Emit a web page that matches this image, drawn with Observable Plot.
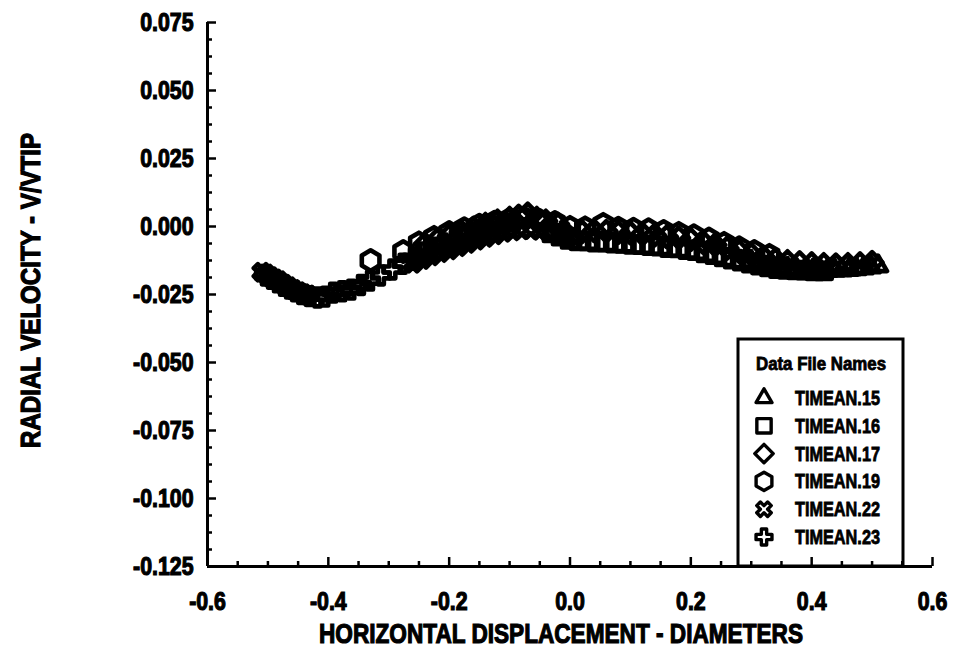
<!DOCTYPE html>
<html>
<head>
<meta charset="utf-8">
<script src="https://cdn.jsdelivr.net/npm/d3@7"></script>
<script src="https://cdn.jsdelivr.net/npm/@observablehq/plot@0.6"></script>
<style>
  body { margin: 0; background: #fff; }
  #chart { position: relative; width: 953px; height: 661px; }
  #chart svg.overlay { position: absolute; left: 0; top: 0; pointer-events: none; }
</style>
</head>
<body>
<div id="chart"></div>
<script>
// Radial velocity traverses, one array pair per data file
const files = ["TIMEAN.15", "TIMEAN.16", "TIMEAN.17", "TIMEAN.19", "TIMEAN.22", "TIMEAN.23"];

const t15x = [0.30, 0.315, 0.33, 0.345, 0.36, 0.375, 0.39, 0.402, 0.414, 0.426, 0.438, 0.45, 0.462, 0.474, 0.486, 0.498, 0.51];
const t15y = [-0.0128, -0.0137, -0.0143, -0.0150, -0.0154, -0.0158, -0.0160, -0.0161, -0.0161, -0.0162, -0.0161, -0.0160, -0.0158, -0.0156, -0.0153, -0.0149, -0.0145];

const t16x = [-0.03, -0.015, 0.0, 0.015, 0.03, 0.045, 0.06, 0.075, 0.09, 0.105, 0.12, 0.135, 0.15, 0.165, 0.18, 0.195, 0.21, 0.225, 0.24, 0.255, 0.27, 0.285, 0.30, 0.315, 0.33, 0.345, 0.36, 0.375, 0.39, 0.405, 0.42];
const t16y = [-0.0024, -0.0036, -0.0048, -0.0053, -0.0053, -0.0058, -0.0057, -0.0061, -0.0062, -0.0066, -0.0067, -0.0071, -0.0072, -0.0078, -0.0079, -0.0085, -0.0089, -0.0097, -0.0104, -0.0112, -0.0120, -0.0128, -0.0135, -0.0142, -0.0149, -0.0155, -0.0158, -0.0160, -0.0161, -0.0163, -0.0163];

const t17x = [-0.24, -0.22, -0.20, -0.18, -0.16, -0.14, -0.12, -0.10, -0.085, -0.07, -0.055, -0.04, -0.02, 0.0, 0.02, 0.04, 0.06, 0.08, 0.10, 0.12, 0.14, 0.16, 0.18, 0.20, 0.22, 0.24, 0.26, 0.28, 0.30, 0.32, 0.34, 0.36, 0.38, 0.40, 0.42, 0.44, 0.46, 0.48, 0.50];
const t17y = [-0.0065, -0.0050, -0.0035, -0.0020, -0.0006, 0.0008, 0.0020, 0.0030, 0.0038, 0.0046, 0.0030, 0.0020, 0.0008, -0.0040, -0.0020, -0.0016, -0.0018, -0.0022, -0.0024, -0.0028, -0.0032, -0.0038, -0.0042, -0.0048, -0.0058, -0.0068, -0.0080, -0.0092, -0.0103, -0.0113, -0.0122, -0.0129, -0.0133, -0.0137, -0.0140, -0.0141, -0.0140, -0.0137, -0.0132];

const t19x = [-0.33, -0.276, -0.25, -0.225, -0.20, -0.175, -0.15, -0.125, -0.10, -0.075, -0.05, -0.025, 0.0, 0.025, 0.055, 0.08, 0.105, 0.13, 0.155, 0.18, 0.205, 0.23, 0.255, 0.28, 0.305, 0.33];
const t19y = [-0.0125, -0.0092, -0.0060, -0.0040, -0.0022, -0.0008, 0.0005, 0.0016, 0.0026, 0.0030, 0.0022, 0.0015, -0.0003, -0.0005, 0.0008, -0.0006, -0.0010, -0.0012, -0.0018, -0.0025, -0.0034, -0.0046, -0.0062, -0.0078, -0.0092, -0.0106];

const t22x = [-0.51, -0.503, -0.496, -0.489, -0.482, -0.474, -0.466, -0.458, -0.45, -0.442, -0.434, -0.26, -0.245, -0.23, -0.215, -0.20, -0.185, -0.17, -0.155, -0.14, -0.125, -0.11, -0.095, -0.08, -0.065, -0.05, -0.035, -0.02, -0.005];
const t22y = [-0.0168, -0.0175, -0.0185, -0.0193, -0.0200, -0.0212, -0.0222, -0.0232, -0.0240, -0.0247, -0.0252, -0.0135, -0.0121, -0.0108, -0.0096, -0.0086, -0.0074, -0.0062, -0.0050, -0.0040, -0.0030, -0.0021, -0.0016, -0.0012, -0.0011, -0.0014, -0.0020, -0.0028, -0.0038];

const t23x = [-0.505, -0.495, -0.485, -0.475, -0.465, -0.455, -0.445, -0.432, -0.418, -0.405, -0.392, -0.377, -0.362, -0.346, -0.331, -0.313, -0.294, -0.277, -0.26, -0.243, -0.226, -0.209, -0.192, -0.175, -0.158, -0.141, -0.124, -0.107, -0.09];
const t23y = [-0.0180, -0.0192, -0.0205, -0.0218, -0.0228, -0.0238, -0.0248, -0.0256, -0.0261, -0.0258, -0.0243, -0.0238, -0.0232, -0.0215, -0.0199, -0.0180, -0.0158, -0.0137, -0.0115, -0.0095, -0.0078, -0.0062, -0.0048, -0.0035, -0.0022, -0.0010, 0.0000, 0.0010, 0.0016];

const xTicks = [-0.6, -0.4, -0.2, 0.0, 0.2, 0.4, 0.6];
const xTickLabels = ["-0.6", "-0.4", "-0.2", "0.0", "0.2", "0.4", "0.6"];
const yTicks = [-0.125, -0.1, -0.075, -0.05, -0.025, 0.0, 0.025, 0.05, 0.075];
const yTickLabels = ["-0.125", "-0.100", "-0.075", "-0.050", "-0.025", "0.000", "0.025", "0.050", "0.075"];

// Marker shapes: pointy-top hexagon and a cross turned 45 degrees are custom,
// and each shape gets its own scale so the outlines come out at similar widths.
const symbolHexagon = {
  draw(ctx, size) {
    const r = Math.sqrt(size / (1.5 * Math.sqrt(3)));
    for (let i = 0; i < 6; i++) {
      const a = -Math.PI / 2 + i * Math.PI / 3;
      const px = r * Math.cos(a), py = r * Math.sin(a);
      i ? ctx.lineTo(px, py) : ctx.moveTo(px, py);
    }
    ctx.closePath();
  }
};
const symbolTimes = {
  draw(ctx, size) {
    const r = Math.sqrt(size / 5) / 2;
    const pts = [[-3*r,-r],[-r,-r],[-r,-3*r],[r,-3*r],[r,-r],[3*r,-r],[3*r,r],[r,r],[r,3*r],[-r,3*r],[-r,r],[-3*r,r]];
    const c = Math.SQRT1_2 * 0.85;
    pts.forEach(([px, py], i) => {
      const X = (px - py) * c, Y = (px + py) * c;
      i ? ctx.lineTo(X, Y) : ctx.moveTo(X, Y);
    });
    ctx.closePath();
  }
};
const scaled = (symbol, k) => ({draw(ctx, size) { symbol.draw(ctx, size * k); }});
const shapes = [
  scaled(d3.symbolTriangle2, 0.8),
  scaled(d3.symbolSquare2, 1.15),
  scaled(d3.symbolDiamond2, 0.95),
  scaled(symbolHexagon, 0.95),
  scaled(symbolTimes, 0.8),
  scaled(d3.symbolCross, 0.62)
];
const markerR = 9.5;
const markerStroke = 4.6;

const series = [[t15x, t15y], [t16x, t16y], [t17x, t17y], [t19x, t19y], [t22x, t22y], [t23x, t23y]];
const points = series.flatMap(([xs, ys], k) => xs.map((x, i) => ({file: files[k], x, y: ys[i]})));

const xMinor = d3.range(-0.55, 0.6, 0.05).filter(v => Math.abs(v / 0.2 - Math.round(v / 0.2)) > 1e-6);
const yMinor = d3.range(-0.125, 0.075, 0.00625).filter(v => Math.abs(v / 0.025 - Math.round(v / 0.025)) > 1e-6);

const font = '"Liberation Sans", Arial, Helvetica, sans-serif';
const blank = () => "";
const xTitle = "HORIZONTAL DISPLACEMENT - DIAMETERS";
const yTitle = "RADIAL VELOCITY - V/VTIP";

const chart = Plot.plot({
  width: 953,
  height: 661,
  marginLeft: 207,
  marginRight: 21,
  marginTop: 22,
  marginBottom: 95,
  x: {domain: [-0.6, 0.6], label: null},
  y: {domain: [-0.125, 0.075], label: null},
  symbol: {domain: files, range: shapes},
  style: {fontFamily: font, fontWeight: "bold", color: "#000", background: "transparent", overflow: "visible"},
  marks: [
    Plot.axisX(xMinor, {tickSize: -5, strokeWidth: 2.5, tickFormat: blank, label: null}),
    Plot.axisX(xTicks, {tickSize: -9, strokeWidth: 2.5, tickFormat: blank, label: null}),
    Plot.axisX(xTicks, {tickSize: 0, tickPadding: 25, fontSize: 26, label: null, tickFormat: d => xTickLabels[xTicks.indexOf(d)]}),
    Plot.axisY(yMinor, {tickSize: -5, strokeWidth: 2.5, tickFormat: blank, label: null}),
    Plot.axisY(yTicks, {tickSize: -9, strokeWidth: 2.5, tickFormat: blank, label: null}),
    Plot.axisY(yTicks, {tickSize: 0, tickPadding: 14, fontSize: 26, label: null, tickFormat: d => yTickLabels[yTicks.indexOf(d)]}),
    Plot.ruleX([-0.6], {strokeWidth: 3}),
    Plot.ruleY([-0.125], {strokeWidth: 3}),
    Plot.text([xTitle], {frameAnchor: "bottom", dy: 76, dx: -9, fontSize: 28}),
    Plot.text([yTitle], {frameAnchor: "left", textAnchor: "middle", dx: -176, dy: -4, rotate: -90, fontSize: 28}),
    Plot.dot(points, {x: "x", y: "y", symbol: "file", r: markerR, stroke: "#000", fill: "none", strokeWidth: markerStroke, strokeLinejoin: "round"})
  ]
});

const root = document.getElementById("chart");
root.appendChild(chart);

// Narrow and thicken the bold face to the condensed look of the labels
const svg = d3.select(chart);
svg.selectAll('g[aria-label$="tick label"] text').each(function () {
  this.setAttribute("textLength", this.getComputedTextLength() * 0.82);
  this.setAttribute("lengthAdjust", "spacingAndGlyphs");
});
svg.selectAll("text").each(function () {
  if (this.textContent === xTitle) this.setAttribute("textLength", 484);
  else if (this.textContent === yTitle) this.setAttribute("textLength", 315);
  else if (!this.textContent) return;
  if (this.hasAttribute("textLength")) this.setAttribute("lengthAdjust", "spacingAndGlyphs");
  this.setAttribute("stroke", "#000");
  this.setAttribute("stroke-width", 1.2);
});

// Legend box listing each data file with its marker
const leg = d3.select(root).append("svg")
  .attr("class", "overlay")
  .attr("width", 953).attr("height", 661)
  .style("font-family", font).style("font-weight", "bold");
leg.append("rect")
  .attr("x", 738).attr("y", 339).attr("width", 165).attr("height", 227)
  .attr("fill", "none").attr("stroke", "#000").attr("stroke-width", 3);
leg.append("text")
  .attr("x", 821).attr("y", 364).attr("text-anchor", "middle").attr("dominant-baseline", "central")
  .attr("font-size", 18).attr("textLength", 130).attr("lengthAdjust", "spacingAndGlyphs")
  .attr("stroke", "#000").attr("stroke-width", 0.8)
  .text("Data File Names");
files.forEach((name, i) => {
  const cy = 398 + i * 27.8;
  leg.append("path")
    .attr("transform", `translate(764,${cy})`)
    .attr("d", d3.symbol(shapes[i], Math.PI * 8.5 * 8.5)())
    .attr("fill", "none").attr("stroke", "#000").attr("stroke-width", 3.4).attr("stroke-linejoin", "round");
  leg.append("text")
    .attr("x", 795).attr("y", cy).attr("dominant-baseline", "central")
    .attr("font-size", 20).attr("textLength", 85).attr("lengthAdjust", "spacingAndGlyphs")
    .attr("stroke", "#000").attr("stroke-width", 0.8)
    .text(name);
});
</script>
</body>
</html>
